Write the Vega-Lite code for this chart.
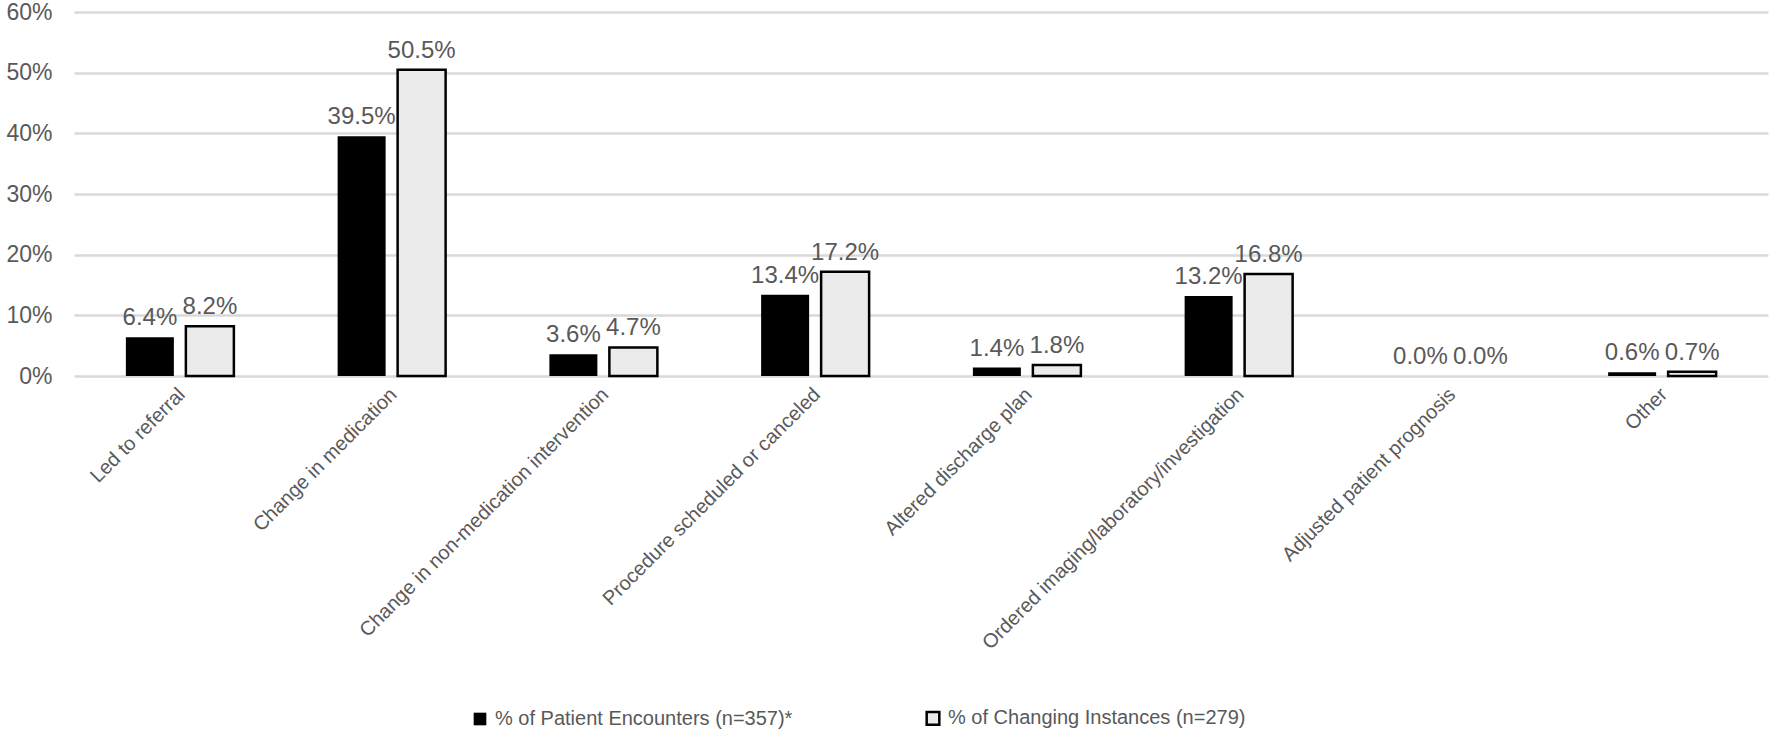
{
  "$schema": "https://vega.github.io/schema/vega-lite/v6.json",
  "autosize": {"type": "none"},
  "padding": {"left": 74, "top": 12, "right": 5, "bottom": 356},
  "width": 1694,
  "height": 364,
  "background": "white",
  "config": {
    "view": {"stroke": null},
    "font": "Liberation Sans",
    "axis": {"labelColor": "#595959", "labelFont": "Liberation Sans"},
    "text": {"font": "Liberation Sans"}
  },
  "data": {
    "values": [
      {"category": "Led to referral", "series": "% of Patient Encounters (n=357)*", "value": 0.064},
      {"category": "Led to referral", "series": "% of Changing Instances (n=279)", "value": 0.082},
      {"category": "Change in medication", "series": "% of Patient Encounters (n=357)*", "value": 0.395},
      {"category": "Change in medication", "series": "% of Changing Instances (n=279)", "value": 0.505},
      {"category": "Change in non-medication intervention", "series": "% of Patient Encounters (n=357)*", "value": 0.036},
      {"category": "Change in non-medication intervention", "series": "% of Changing Instances (n=279)", "value": 0.047},
      {"category": "Procedure scheduled or canceled", "series": "% of Patient Encounters (n=357)*", "value": 0.134},
      {"category": "Procedure scheduled or canceled", "series": "% of Changing Instances (n=279)", "value": 0.172},
      {"category": "Altered discharge plan", "series": "% of Patient Encounters (n=357)*", "value": 0.014},
      {"category": "Altered discharge plan", "series": "% of Changing Instances (n=279)", "value": 0.018},
      {"category": "Ordered imaging/laboratory/investigation", "series": "% of Patient Encounters (n=357)*", "value": 0.132},
      {"category": "Ordered imaging/laboratory/investigation", "series": "% of Changing Instances (n=279)", "value": 0.168},
      {"category": "Adjusted patient prognosis", "series": "% of Patient Encounters (n=357)*", "value": 0.0},
      {"category": "Adjusted patient prognosis", "series": "% of Changing Instances (n=279)", "value": 0.0},
      {"category": "Other", "series": "% of Patient Encounters (n=357)*", "value": 0.006},
      {"category": "Other", "series": "% of Changing Instances (n=279)", "value": 0.007}
    ]
  },
  "encoding": {
    "x": {
      "field": "category", "type": "nominal", "sort": null, "title": null,
      "scale": {
        "domain": ["Led to referral", "Change in medication", "Change in non-medication intervention", "Procedure scheduled or canceled", "Altered discharge plan", "Ordered imaging/laboratory/investigation", "Adjusted patient prognosis", "Other"],
        "paddingInner": 0.49, "paddingOuter": 0.245
      },
      "axis": {"labelAngle": -45, "labelFontSize": 20, "ticks": false, "domain": false, "labelPadding": 8, "labelOffset": -5, "labelLimit": 600}
    },
    "xOffset": {
      "field": "series", "type": "nominal",
      "sort": ["% of Patient Encounters (n=357)*", "% of Changing Instances (n=279)"],
      "scale": {"domain": ["% of Patient Encounters (n=357)*", "% of Changing Instances (n=279)"], "paddingInner": 0.2, "paddingOuter": 0}
    },
    "y": {
      "field": "value", "type": "quantitative", "title": null,
      "scale": {"domain": [0, 0.6]},
      "axis": {"format": "0%", "values": [0, 0.1, 0.2, 0.3, 0.4, 0.5, 0.6], "labelOverlap": false, "labelFontSize": 23, "gridColor": "#d9d9d9", "gridWidth": 2.5, "domain": false, "ticks": false, "labelPadding": 22}
    }
  },
  "layer": [
    {
      "transform": [{"filter": "datum.value > 0"}],
      "mark": {"type": "bar", "stroke": "#000000"},
      "encoding": {
        "fill": {
          "field": "series", "type": "nominal", "title": null,
          "sort": ["% of Patient Encounters (n=357)*", "% of Changing Instances (n=279)"],
          "scale": {"domain": ["% of Patient Encounters (n=357)*", "% of Changing Instances (n=279)"], "range": ["#000000", "#ebebeb"]},
          "legend": {
            "orient": "none", "direction": "horizontal", "legendX": 396, "legendY": 696,
            "symbolType": "square", "symbolSize": 160, "symbolStrokeColor": "#000000", "symbolStrokeWidth": 2,
            "labelFontSize": 20, "labelColor": "#595959", "labelOffset": 5, "columnPadding": 128, "labelLimit": 600
          }
        },
        "strokeWidth": {
          "field": "series", "type": "nominal",
          "scale": {"domain": ["% of Patient Encounters (n=357)*", "% of Changing Instances (n=279)"], "range": [0, 2.5]},
          "legend": null
        }
      }
    },
    {
      "mark": {"type": "text", "dy": -19, "fontSize": 24, "color": "#595959"},
      "encoding": {
        "text": {"field": "value", "type": "quantitative", "format": ".1%"}
      }
    }
  ]
}
